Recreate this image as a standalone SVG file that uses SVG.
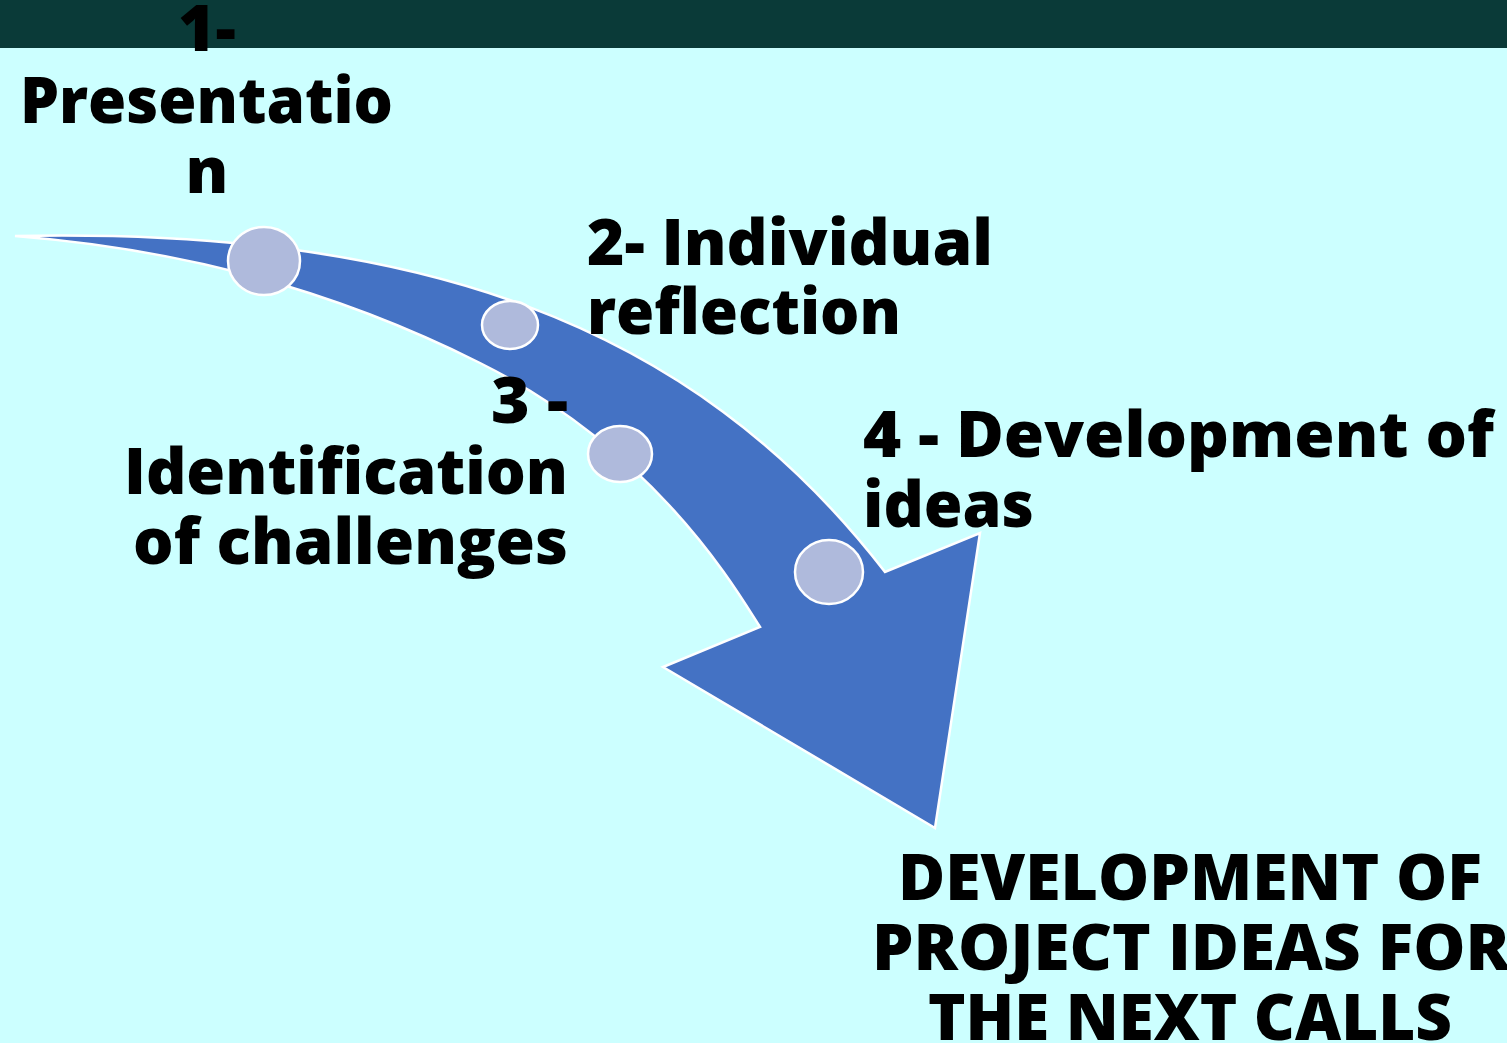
<svg xmlns="http://www.w3.org/2000/svg" width="1507" height="1043" viewBox="0 0 1507 1043">
<style>
.t{font-family:"Open Sans","Noto Sans","DejaVu Sans",sans-serif;font-weight:800;font-size:64px;fill:#000}
.dot{fill:#AFBADC;stroke:#fff;stroke-width:2.5}
.arrow{fill:#4472C4;stroke:#fff;stroke-width:2.5;stroke-linejoin:miter}
</style>
<rect x="0" y="0" width="1507" height="1043" fill="#CCFFFF"/>
<rect x="0" y="0" width="1507" height="48" fill="#0A3A38"/>
<g id="connectors">
<path class="arrow" d="M15,236 C415,228 689.8,319.2 885,572 L980,533 L935,828 L663,667 L760,627 C738.2,593.4 658.8,452.4 480,363 C319,282.5 165,248 15,236 Z"/>
</g>
<g id="node1">
<ellipse class="dot" cx="264" cy="261" rx="36" ry="34"/>
<text class="t" x="207" y="51" text-anchor="middle">1-</text>
<text class="t" x="20" y="123" textLength="373" lengthAdjust="spacingAndGlyphs">Presentatio</text>
<text class="t" x="207" y="193" text-anchor="middle">n</text>
</g>
<g id="node2">
<ellipse class="dot" cx="510" cy="325" rx="28" ry="24"/>
<text class="t" x="587" y="265" textLength="406" lengthAdjust="spacingAndGlyphs">2- Individual</text>
<text class="t" x="587" y="334" textLength="314" lengthAdjust="spacingAndGlyphs">reflection</text>
</g>
<g id="node3">
<ellipse class="dot" cx="620" cy="454" rx="32" ry="28"/>
<text class="t" x="491" y="423" textLength="77" lengthAdjust="spacingAndGlyphs">3 -</text>
<text class="t" x="124" y="494" textLength="444" lengthAdjust="spacingAndGlyphs">Identification</text>
<text class="t" x="133" y="564" textLength="435" lengthAdjust="spacingAndGlyphs">of challenges</text>
</g>
<g id="node4">
<ellipse class="dot" cx="829" cy="572" rx="34" ry="32"/>
<text class="t" x="863" y="457" textLength="631" lengthAdjust="spacingAndGlyphs">4 - Development of</text>
<text class="t" x="863" y="527" textLength="171" lengthAdjust="spacingAndGlyphs">ideas</text>
</g>
<g id="result">
<text class="t" x="898" y="900" textLength="584" lengthAdjust="spacingAndGlyphs">DEVELOPMENT OF</text>
<text class="t" x="872" y="970" textLength="638" lengthAdjust="spacingAndGlyphs">PROJECT IDEAS FOR</text>
<text class="t" x="928" y="1040" textLength="524" lengthAdjust="spacingAndGlyphs">THE NEXT CALLS</text>
</g>
</svg>
